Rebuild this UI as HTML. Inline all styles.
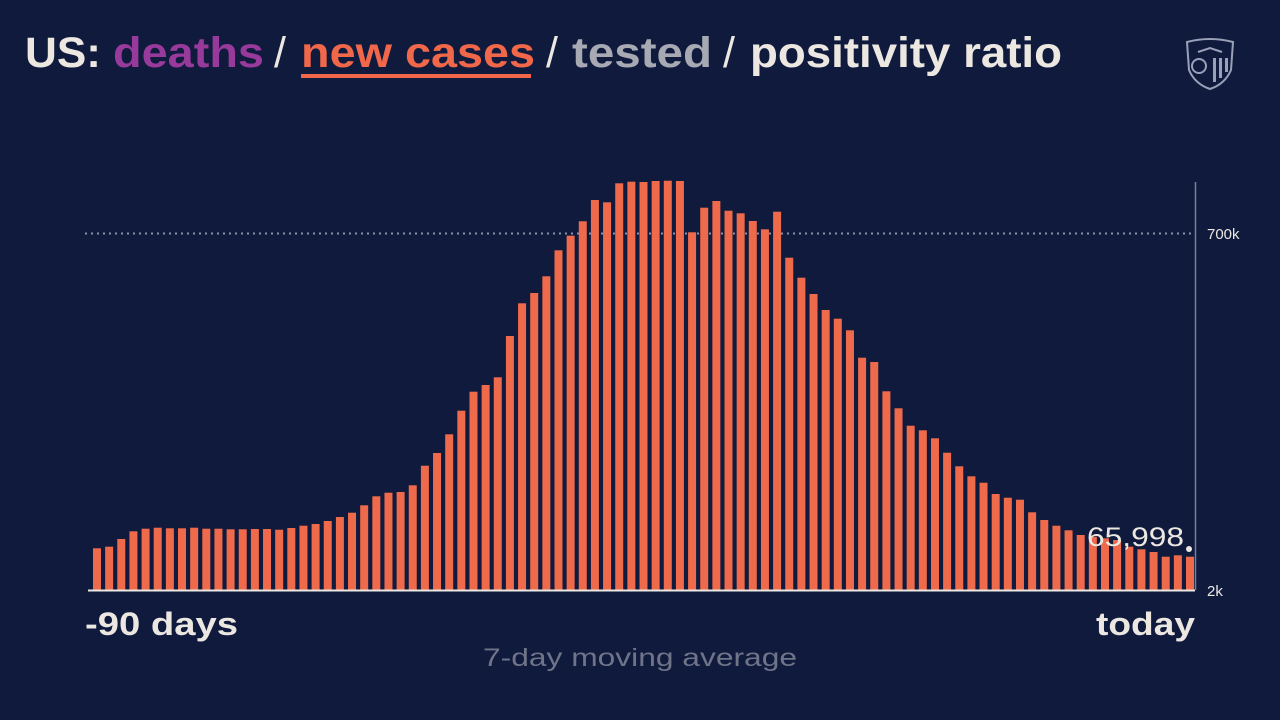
<!DOCTYPE html>
<html><head><meta charset="utf-8"><style>
html,body{margin:0;padding:0;background:#0f1a3d;}
svg{display:block}
text{font-family:"Liberation Sans",sans-serif;}
</style></head><body>
<svg width="1280" height="720" viewBox="0 0 1280 720" xmlns="http://www.w3.org/2000/svg">
<rect width="1280" height="720" fill="#0f1a3d"/>
<g font-size="43" font-weight="bold">
<text x="25" y="67" fill="#ece8e1" textLength="76" lengthAdjust="spacingAndGlyphs">US:</text>
<text x="113" y="67" fill="#983a9b" textLength="151" lengthAdjust="spacingAndGlyphs">deaths</text>
<text x="274" y="67" fill="#ece8e1" font-weight="normal">/</text>
<text x="301" y="67" fill="#f0674a" textLength="234" lengthAdjust="spacingAndGlyphs">new cases</text>
<text x="546" y="67" fill="#ece8e1" font-weight="normal">/</text>
<text x="572" y="67" fill="#a7a9b3" textLength="140" lengthAdjust="spacingAndGlyphs">tested</text>
<text x="723" y="67" fill="#ece8e1" font-weight="normal">/</text>
<text x="750" y="67" fill="#ece8e1" textLength="312" lengthAdjust="spacingAndGlyphs">positivity ratio</text>
</g>
<rect x="301" y="74" width="230" height="4" fill="#f0674a"/>
<!-- logo -->
<g fill="none" stroke="#9aa0b8" stroke-width="2">
<path d="M1187 42 Q1210 36 1233 42 L1231 70 Q1225 84 1210 89 Q1195 84 1189 70 Z"/>
<circle cx="1199" cy="66" r="7"/>
<path d="M1198 52 L1210 48 L1222 52"/>
</g>
<g fill="#9aa0b8"><rect x="1213" y="58" width="3" height="24"/><rect x="1219" y="58" width="3" height="20"/><rect x="1225" y="58" width="3" height="14"/></g>
<!-- grid -->
<line x1="85" y1="233.5" x2="1195" y2="233.5" stroke="#8a90a8" stroke-width="2" stroke-dasharray="2,4"/>
<line x1="1195.5" y1="182" x2="1195.5" y2="590" stroke="#7a7f99" stroke-width="1.5"/>
<g id="bars" fill="#ef6a4a"></g>
<line x1="88" y1="590.5" x2="1195" y2="590.5" stroke="#ece8e1" stroke-width="2"/>
<text x="1207" y="239" fill="#ece8e1" font-size="15">700k</text>
<text x="1207" y="596" fill="#ece8e1" font-size="15">2k</text>
<text x="1087" y="546" fill="#ece8e1" font-size="27" textLength="97" lengthAdjust="spacingAndGlyphs">65,998</text>
<circle cx="1189" cy="549" r="3" fill="#ece8e1"/>
<text x="85" y="635" fill="#ece8e1" font-size="32" font-weight="bold" textLength="153" lengthAdjust="spacingAndGlyphs">-90 days</text>
<text x="1096" y="635" fill="#ece8e1" font-size="32" font-weight="bold" textLength="99" lengthAdjust="spacingAndGlyphs">today</text>
<text x="483" y="666" fill="#6f7488" font-size="25" textLength="314" lengthAdjust="spacingAndGlyphs">7-day moving average</text>
</svg>
<script>
var t=[548.3,546.7,539,531.3,528.7,527.7,528.3,528.3,527.7,528.7,528.7,529.3,529.3,529,529,529.7,528,525.7,524,521,517,512.7,505.3,496.3,492.7,492,485.3,465.7,453,434.3,410.7,391.7,385,377.3,336,303.3,293,276.3,250.3,235.7,221.3,200,202.3,183.3,181.7,
182,181,180.7,181,
232.3,207.7,201,210.7,213.3,221,229.3,211.7,257.7,277.7,294,310,318.7,330.3,357.7,362,391.3,408.3,425.7,430.3,438.3,452.7,466.3,476.3,482.7,494,497.7,499.7,512.3,520,525.7,530.3,535,536.7,538.3,540,546.7,549.3,552,556.7,555.3,556.7];
var g=document.getElementById('bars'),ns='http://www.w3.org/2000/svg',n=t.length,p=(1186-93)/(n-1);
for(var i=0;i<n;i++){var r=document.createElementNS(ns,'rect');r.setAttribute('x',(93+i*p).toFixed(2));r.setAttribute('y',t[i]);r.setAttribute('width',8);r.setAttribute('height',590-t[i]);g.appendChild(r);}
</script>
</body></html>
